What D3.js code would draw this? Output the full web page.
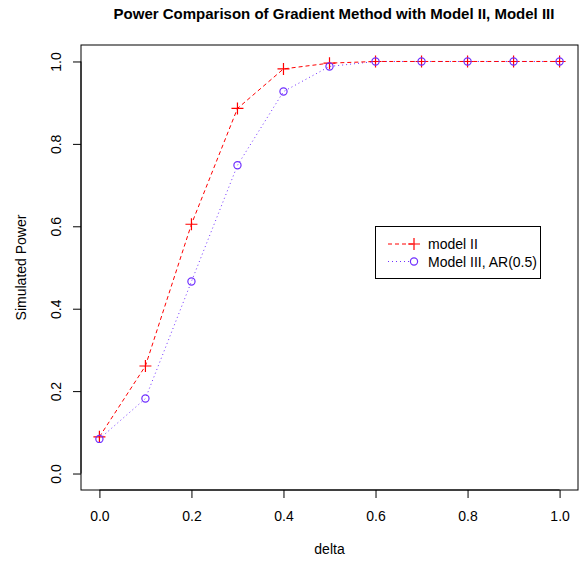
<!DOCTYPE html>
<html><head><meta charset="utf-8">
<script src="https://cdn.jsdelivr.net/npm/d3@7"></script>
<style>body{margin:0;background:#fff}svg{display:block}text{font-family:"Liberation Sans",Arial,sans-serif}</style>
</head><body>
<svg id="c" width="584" height="563"></svg>
<script>
const delta = [0, 0.1, 0.2, 0.3, 0.4, 0.5, 0.6, 0.7, 0.8, 0.9, 1.0];
const modelII = [0.089, 0.261, 0.605, 0.886, 0.982, 0.996, 1.0, 1.0, 1.0, 1.0, 1.0];
const modelIII = [0.084, 0.182, 0.466, 0.748, 0.927, 0.988, 1.0, 1.0, 1.0, 1.0, 1.0];
const xTicks = [0, 0.2, 0.4, 0.6, 0.8, 1.0];
const yTicks = [0, 0.2, 0.4, 0.6, 0.8, 1.0];
const legendLabels = ["model II", "Model III, AR(0.5)"];
const titleText = "Power Comparison of Gradient Method with Model II, Model III";

const svg = d3.select("#c");
const L = 81, R = 578, T = 45, B = 490;
const x = d3.scaleLinear().domain([-0.04, 1.04]).range([L, R]);
const y = d3.scaleLinear().domain([-0.04, 1.04]).range([B, T]);
const red = "#ff0000", blue = "#7030ff";

// title
svg.append("text").attr("x", 334).attr("y", 19).attr("text-anchor", "middle")
  .attr("font-weight", "bold").attr("font-size", 15).text(titleText);

// axes
const xa = svg.append("g").attr("transform", `translate(0,${B})`)
  .call(d3.axisBottom(x).tickValues(xTicks).tickFormat(d3.format(".1f")).tickSizeOuter(0).tickSize(8).tickPadding(13));
xa.select(".domain").attr("d", `M${x(0)},0H${x(1)}`);
xa.selectAll("text").attr("font-size", 14).attr("font-family", "Liberation Sans, Arial, sans-serif").attr("fill", "#000");

const ya = svg.append("g").attr("transform", `translate(${L},0)`)
  .call(d3.axisLeft(y).tickValues(yTicks).tickFormat(d3.format(".1f")).tickSizeOuter(0).tickSize(8));
ya.select(".domain").attr("d", `M0,${y(0)}V${y(1)}`);
ya.selectAll(".tick text").attr("font-size", 14).attr("font-family", "Liberation Sans, Arial, sans-serif").attr("fill", "#000")
  .attr("x", null).attr("dy", null).attr("text-anchor", "middle")
  .attr("transform", "translate(-25,0) rotate(-90)").attr("dominant-baseline", "central");

// box
svg.append("rect").attr("x", L).attr("y", T).attr("width", R - L).attr("height", B - T)
  .attr("fill", "none").attr("stroke", "#000").attr("stroke-width", 1);

// axis titles
svg.append("text").attr("x", (L + R) / 2).attr("y", 554).attr("text-anchor", "middle").attr("font-size", 14).text("delta");
svg.append("text").attr("transform", `translate(21,${(T + B) / 2}) rotate(-90)`).attr("text-anchor", "middle")
  .attr("dominant-baseline", "central").attr("font-size", 14).text("Simulated Power");

const line = d3.line().x((d, i) => x(delta[i])).y(d => y(d));
svg.append("path").datum(modelIII).attr("d", line).attr("fill", "none").attr("stroke", blue).attr("stroke-width", 1).attr("stroke-dasharray", "1,3");
svg.append("path").datum(modelII).attr("d", line).attr("fill", "none").attr("stroke", red).attr("stroke-width", 1).attr("stroke-dasharray", "4,3");

const plus = (g, cx, cy, col) => {
  g.append("path").attr("d", `M${cx - 6},${cy}H${cx + 6}M${cx},${cy - 6}V${cy + 6}`).attr("stroke", col).attr("stroke-width", 1.2).attr("fill", "none");
};
const pg = svg.append("g");
modelII.forEach((v, i) => plus(pg, x(delta[i]), y(v), red));
svg.append("g").selectAll("circle").data(modelIII).join("circle")
  .attr("cx", (d, i) => x(delta[i])).attr("cy", d => y(d)).attr("r", 3.6)
  .attr("fill", "none").attr("stroke", blue).attr("stroke-width", 1.2);

// legend
const lg = svg.append("g");
lg.append("rect").attr("x", 375.5).attr("y", 226.5).attr("width", 165).attr("height", 52).attr("fill", "#fff").attr("stroke", "#000");
const ly = [244, 261.5];
lg.append("line").attr("x1", 388).attr("x2", 413).attr("y1", ly[0]).attr("y2", ly[0]).attr("stroke", red).attr("stroke-dasharray", "4,3");
plus(lg, 414, ly[0], red);
lg.append("line").attr("x1", 388).attr("x2", 410).attr("y1", ly[1]).attr("y2", ly[1]).attr("stroke", blue).attr("stroke-dasharray", "1,3");
lg.append("circle").attr("cx", 414).attr("cy", ly[1]).attr("r", 3.6).attr("fill", "none").attr("stroke", blue).attr("stroke-width", 1.2);
legendLabels.forEach((t, i) => lg.append("text").attr("x", 428).attr("y", ly[i]).attr("dominant-baseline", "central").attr("font-size", 14).text(t));
</script>
</body></html>
